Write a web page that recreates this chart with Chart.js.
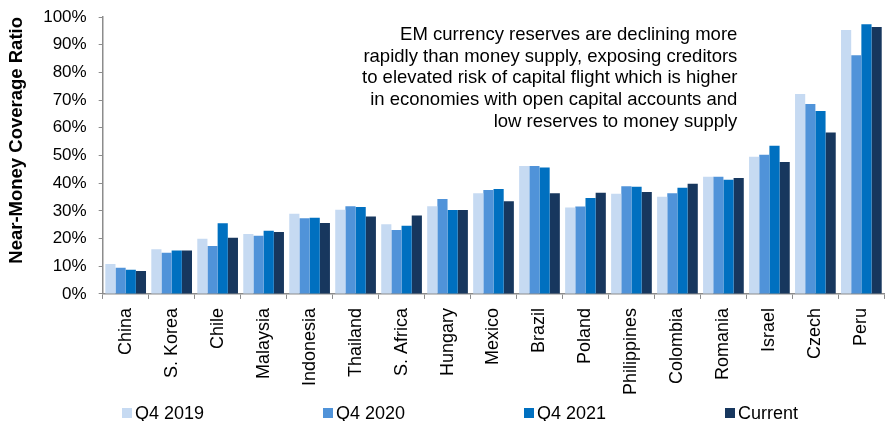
<!DOCTYPE html>
<html>
<head>
<meta charset="utf-8">
<script src="https://cdn.jsdelivr.net/npm/chart.js@4.4.1/dist/chart.umd.min.js"></script>
<style>
  html, body { margin: 0; padding: 0; background: #fff; }
  #wrap { width: 892px; height: 421px; position: relative; }
</style>
</head>
<body>
<div id="wrap"><canvas id="coverage_chart"></canvas></div>
<script>
// DATA

const countries = ["China", "S. Korea", "Chile", "Malaysia", "Indonesia", "Thailand", "S. Africa", "Hungary",
	"Mexico", "Brazil", "Poland", "Philippines", "Colombia", "Romania", "Israel", "Czech", "Peru"];

const q4_2019 = [10.8, 16.1, 19.9, 21.6, 29.0, 30.4, 25.2, 31.7, 36.4, 46.2, 31.2, 36.2, 35.1, 42.3, 49.5, 72.2, 95.3];
const q4_2020 = [9.5, 14.9, 17.3, 21.0, 27.3, 31.7, 23.1, 34.3, 37.5, 46.2, 31.6, 38.9, 36.4, 42.3, 50.3, 68.6, 86.2];
const q4_2021 = [8.7, 15.7, 25.5, 22.8, 27.5, 31.4, 24.6, 30.3, 37.9, 45.7, 34.6, 38.7, 38.3, 41.2, 53.5, 66.1, 97.4];
const current = [8.3, 15.7, 20.3, 22.4, 25.6, 28.0, 28.3, 30.3, 33.5, 36.4, 36.5, 36.8, 39.8, 41.9, 47.6, 58.3, 96.4];

const y_ticks = [0, 10, 20, 30, 40, 50, 60, 70, 80, 90, 100];

const note_lines = [
	"EM currency reserves are declining more",
	"rapidly than money supply, exposing creditors",
	"to elevated risk of capital flight which is higher",
	"in economies with open capital accounts and",
	"low reserves to money supply"
];

const FONT = "'Liberation Sans', Arial, sans-serif";
const AXIS_GREY = "#8c8c8c";

// PLUGINS

// right-aligned note in the upper part of the plot
const notePlugin = {
	id: "note",
	afterDraw(chart) {
		const ctx = chart.ctx;
		const area = chart.chartArea;
		ctx.save();
		ctx.font = "18.5px " + FONT;
		ctx.fillStyle = "#000";
		ctx.textAlign = "right";
		ctx.textBaseline = "middle";
		note_lines.forEach((line, i) => {
			ctx.fillText(line, area.right - 147, area.top + 18 + i * 21.7);
		});
		ctx.restore();
	}
};

// evenly spaced legend row under the axis labels
const legendRowPlugin = {
	id: "legendRow",
	afterDraw(chart) {
		const ctx = chart.ctx;
		ctx.save();
		ctx.font = "18px " + FONT;
		ctx.textAlign = "left";
		ctx.textBaseline = "middle";
		chart.data.datasets.forEach((ds, i) => {
			const x = 122 + i * 201;
			const y = 413;
			ctx.fillStyle = ds.backgroundColor;
			ctx.fillRect(x, y - 5, 10, 10);
			ctx.fillStyle = "#000";
			ctx.fillText(ds.label, x + 13, y + 1);
		});
		ctx.restore();
	}
};

// CHART

const ctx = document.getElementById("coverage_chart").getContext("2d");

const my_chart = new Chart(ctx, {
	type: "bar",
	data: {
		labels: countries,
		datasets: [
			{ label: "Q4 2019", data: q4_2019, backgroundColor: "#c6daf2" },
			{ label: "Q4 2020", data: q4_2020, backgroundColor: "#5093d9" },
			{ label: "Q4 2021", data: q4_2021, backgroundColor: "#0070c0" },
			{ label: "Current", data: current, backgroundColor: "#17375e" }
		]
	},
	options: {
		responsive: true,
		maintainAspectRatio: false,
		animation: false,
		datasets: {
			bar: { categoryPercentage: 0.885, barPercentage: 1.0 }
		},
		layout: {
			padding: { top: 17, right: 1, bottom: 17, left: 6 }
		},
		plugins: {
			legend: { display: false },
			tooltip: { enabled: false }
		},
		scales: {
			x: {
				grid: {
					display: true,
					drawOnChartArea: false,
					drawTicks: true,
					tickLength: 5,
					color: AXIS_GREY,
					offset: true
				},
				border: { color: AXIS_GREY, width: 1.5 },
				ticks: {
					color: "#000",
					font: { family: FONT, size: 18 },
					minRotation: 90,
					maxRotation: 90,
					autoSkip: false,
					padding: 9
				}
			},
			y: {
				min: 0,
				max: 100,
				afterBuildTicks(axis) {
					axis.ticks = y_ticks.map(v => ({ value: v }));
				},
				// the 100% label may sit in the top margin
				afterFit(axis) {
					axis.paddingTop = 0;
				},
				grid: {
					display: true,
					drawOnChartArea: false,
					drawTicks: true,
					tickLength: 4,
					color: AXIS_GREY
				},
				border: { color: AXIS_GREY, width: 1.5 },
				ticks: {
					color: "#000",
					font: { family: FONT, size: 17 },
					padding: 12,
					callback: v => v + "%"
				},
				title: {
					display: true,
					text: "Near-Money Coverage Ratio",
					align: "end",
					color: "#000",
					font: { family: FONT, size: 18.5, weight: "bold" },
					padding: { top: 0, bottom: 3 }
				}
			}
		}
	},
	plugins: [notePlugin, legendRowPlugin]
});
</script>
</body>
</html>
